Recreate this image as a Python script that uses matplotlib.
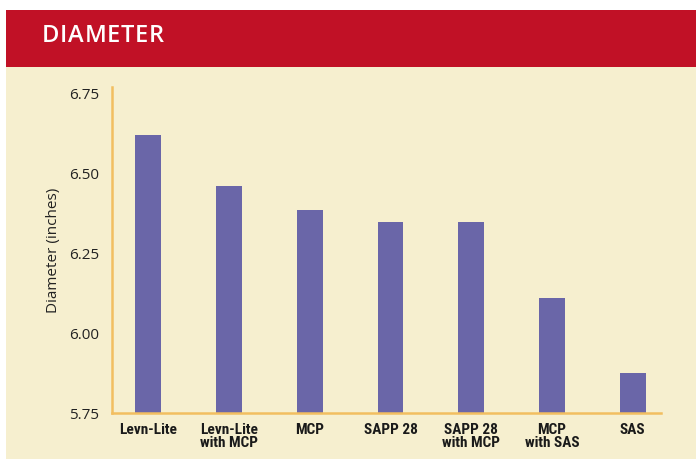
import matplotlib
matplotlib.use('Agg')
import matplotlib.pyplot as plt
from matplotlib.patches import Rectangle
from matplotlib import font_manager

# values
categories = ["Levn-Lite", "Levn-Lite\nwith MCP", "MCP", "SAPP 28",
              "SAPP 28\nwith MCP", "MCP\nwith SAS", "SAS"]
diameters = [6.62, 6.46, 6.385, 6.347, 6.347, 6.11, 5.875]
y_ticks = [5.75, 6.00, 6.25, 6.50, 6.75]
y_tick_labels = ["5.75", "6.00", "6.25", "6.50", "6.75"]
title = "DIAMETER"

RED = "#C11126"
CREAM = "#F6EFCF"
BAR = "#6A66A8"
AXIS = "#F2BE60"

# pick a condensed face for the category labels if there is one
names = {f.name for f in font_manager.fontManager.ttflist}
narrow_family, narrow_stretch = "DejaVu Sans", "condensed"
for cand in ["Liberation Sans Narrow", "Roboto Condensed", "Open Sans Condensed"]:
    if cand in names:
        narrow_family, narrow_stretch = cand, "normal"
        break

W, H = 696, 459
fig = plt.figure(figsize=(W / 100, H / 100), dpi=100)
fig.patch.set_facecolor("white")

# cream panel + red header band (figure pixel coords, y from top)
def px_rect(x0, y0, x1, y1, color):
    fig.patches.append(Rectangle((x0 / W, 1 - y1 / H), (x1 - x0) / W, (y1 - y0) / H,
                                 transform=fig.transFigure, facecolor=color,
                                 edgecolor="none", zorder=-5))

px_rect(6, 66.5, W, H, CREAM)
px_rect(6, 10, W, 66.5, RED)

# letter-spaced header text
renderer = fig.canvas.get_renderer()
xpos = 42
for ch in title:
    t = fig.text(xpos / W, 1 - 36.5 / H, ch, color="white", fontsize=17,
                 family="Open Sans", fontweight="semibold", ha="left", va="center")
    xpos += t.get_window_extent(renderer).width + 0.7

ax_left, ax_right, ax_top, ax_bot = 112, 661, 87, 413
ax = fig.add_axes([ax_left / W, 1 - ax_bot / H, (ax_right - ax_left) / W, (ax_bot - ax_top) / H])
ax.set_facecolor("none")
ax.set_zorder(2)

x = range(len(categories))
ax.bar(x, diameters, width=0.32, color=BAR)
ax.set_xlim(-0.45, 6.35)
ax.set_ylim(5.75, 6.769)

ax.set_yticks(y_ticks)
ax.set_yticklabels(y_tick_labels, fontsize=11, family="Open Sans", color="#222222")
ax.set_xticks(list(x))
ax.set_xticklabels(categories, fontsize=11, family=narrow_family, fontstretch=narrow_stretch,
                   fontweight="bold", color="#1a1a1a", linespacing=0.9)
ax.tick_params(axis="both", length=0)
ax.tick_params(axis="y", pad=9)
ax.tick_params(axis="x", pad=7)

for side in ["top", "right"]:
    ax.spines[side].set_visible(False)
for side in ["left", "bottom"]:
    ax.spines[side].set_color(AXIS)
    ax.spines[side].set_linewidth(1.8)

ax.set_ylabel("Diameter (inches)", fontsize=11, family="Open Sans", color="#222222", labelpad=6)

fig.savefig("out.png", dpi=100)
